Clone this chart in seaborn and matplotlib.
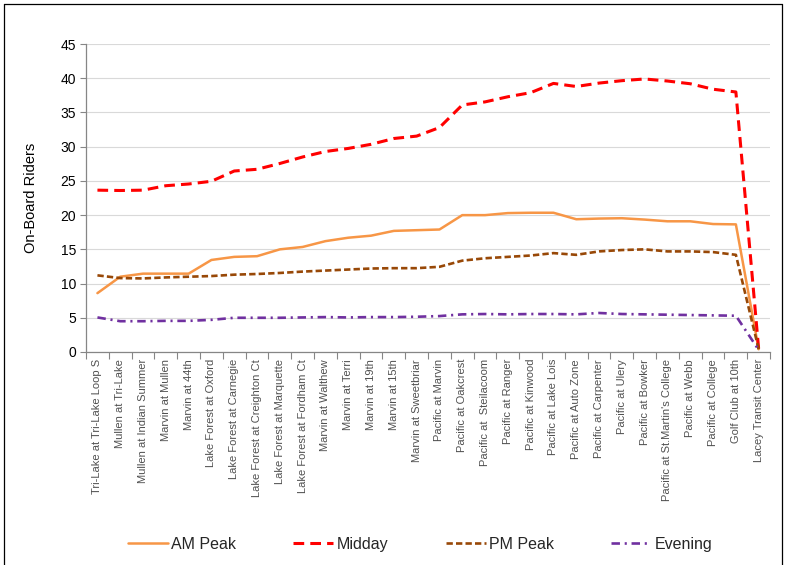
import matplotlib
matplotlib.use("Agg")
import matplotlib.pyplot as plt
import numpy as np
import pandas as pd
import seaborn as sns
from matplotlib.lines import Line2D

# stops along the route
stops = [
    "Tri-Lake at Tri-Lake Loop S", "Mullen at Tri-Lake", "Mullen at Indian Summer",
    "Marvin at Mullen", "Marvin at 44th", "Lake Forest at Oxford",
    "Lake Forest at Carnegie", "Lake Forest at Creighton Ct", "Lake Forest at Marquette",
    "Lake Forest at Fordham Ct", "Marvin at Walthew", "Marvin at Terri",
    "Marvin at 19th", "Marvin at 15th", "Marvin at Sweetbriar",
    "Pacific at Marvin", "Pacific at Oakcrest", "Pacific at  Steilacoom",
    "Pacific at Ranger", "Pacific at Kinwood", "Pacific at Lake Lois",
    "Pacific at Auto Zone", "Pacific at Carpenter", "Pacific at Ulery",
    "Pacific at Bowker", "Pacific at St.Martin's College", "Pacific at Webb",
    "Pacific at College", "Golf Club at 10th", "Lacey Transit Center",
]

am_peak = [8.6, 11.0, 11.45, 11.45, 11.45, 13.45, 13.9, 14.0, 15.0, 15.35,
           16.2, 16.7, 17.0, 17.7, 17.8, 17.9, 20.0, 20.0, 20.3, 20.35,
           20.35, 19.4, 19.5, 19.55, 19.35, 19.1, 19.1, 18.7, 18.65, 0.4]
midday = [23.65, 23.6, 23.65, 24.3, 24.55, 24.95, 26.45, 26.7, 27.55, 28.5,
          29.3, 29.75, 30.35, 31.2, 31.55, 32.8, 36.1, 36.55, 37.3, 37.9,
          39.25, 38.8, 39.3, 39.65, 39.9, 39.6, 39.2, 38.4, 38.0, 0.4]
pm_peak = [11.2, 10.8, 10.75, 10.9, 11.0, 11.1, 11.3, 11.4, 11.55, 11.75,
           11.9, 12.05, 12.2, 12.25, 12.25, 12.45, 13.35, 13.7, 13.9, 14.1,
           14.45, 14.2, 14.7, 14.9, 15.0, 14.7, 14.7, 14.6, 14.2, 0.4]
evening = [5.05, 4.5, 4.5, 4.55, 4.55, 4.7, 5.0, 5.0, 5.0, 5.05,
           5.1, 5.05, 5.1, 5.1, 5.15, 5.25, 5.5, 5.55, 5.5, 5.55,
           5.55, 5.5, 5.7, 5.55, 5.5, 5.45, 5.4, 5.35, 5.3, 0.3]

series = {"AM Peak": am_peak, "Midday": midday, "PM Peak": pm_peak, "Evening": evening}

# style per series: colour, width, dash pattern
styles = {
    "AM Peak": ("#F79646", 1.8, "-"),
    "Midday": ("#FF0000", 2.2, (0, (3.5, 2.0))),
    "PM Peak": ("#984807", 1.9, (0, (2.4, 1.2))),
    "Evening": ("#7030A0", 1.9, (0, (3.2, 1.8, 0.8, 1.8))),
}

sns.set_theme(style="white")
plt.rcParams["font.family"] = ["Liberation Sans", "DejaVu Sans"]

fig = plt.figure(figsize=(7.85, 5.65), dpi=100)
ax = fig.add_axes([0.1096, 0.377, 0.8714, 0.545])

pos = np.arange(len(stops))
for name, vals in series.items():
    col, lw, ls = styles[name]
    df = pd.DataFrame({"stop": pos, "riders": vals})
    sns.lineplot(data=df, x="stop", y="riders", ax=ax, color=col, lw=lw,
                 linestyle=ls, label=name)

ax.set_xlim(-0.5, len(stops) - 0.5)
ax.set_ylim(0, 45)
ax.set_yticks(np.arange(0, 46, 5))
ax.grid(axis="y", color="#D9D9D9", lw=0.8)
ax.set_axisbelow(True)

ax.set_xticks(pos)
ax.set_xticklabels(stops, rotation=90, fontsize=8, color="#505050")
ax.set_xticks(np.arange(-0.5, len(stops), 1), minor=True)
ax.tick_params(axis="x", which="major", length=0, pad=5)
ax.tick_params(axis="x", which="minor", length=5, width=0.8, color="#868686",
               direction="out", bottom=True)
ax.tick_params(axis="y", length=4, width=0.8, color="#868686", direction="out",
               left=True, labelsize=10, pad=3)
for lbl in ax.get_yticklabels():
    lbl.set_color("#000000")

for s in ["top", "right"]:
    ax.spines[s].set_visible(False)
for s in ["left", "bottom"]:
    ax.spines[s].set_color("#868686")
    ax.spines[s].set_linewidth(0.9)

ax.set_xlabel("")
ax.set_ylabel("On-Board Riders", fontsize=10.5, color="#000000", labelpad=16)

handles, labels = ax.get_legend_handles_labels()
ax.get_legend().remove()
fig.legend(handles, labels, loc="center", bbox_to_anchor=(0.535, 0.037), ncol=4,
           frameon=False, fontsize=11.5, handlelength=2.5, handletextpad=0.2,
           columnspacing=3.6)

# outer chart border (partly cropped in the reference)
fig.add_artist(Line2D([4 / 785, 4 / 785], [0, 1 - 4 / 565], color="#000000", lw=0.9,
                      transform=fig.transFigure))
fig.add_artist(Line2D([4 / 785, 782 / 785], [1 - 4 / 565, 1 - 4 / 565], color="#000000",
                      lw=0.9, transform=fig.transFigure))
fig.add_artist(Line2D([782 / 785, 782 / 785], [0, 1 - 4 / 565], color="#000000", lw=0.9,
                      transform=fig.transFigure))

fig.savefig("out.png", dpi=100)
